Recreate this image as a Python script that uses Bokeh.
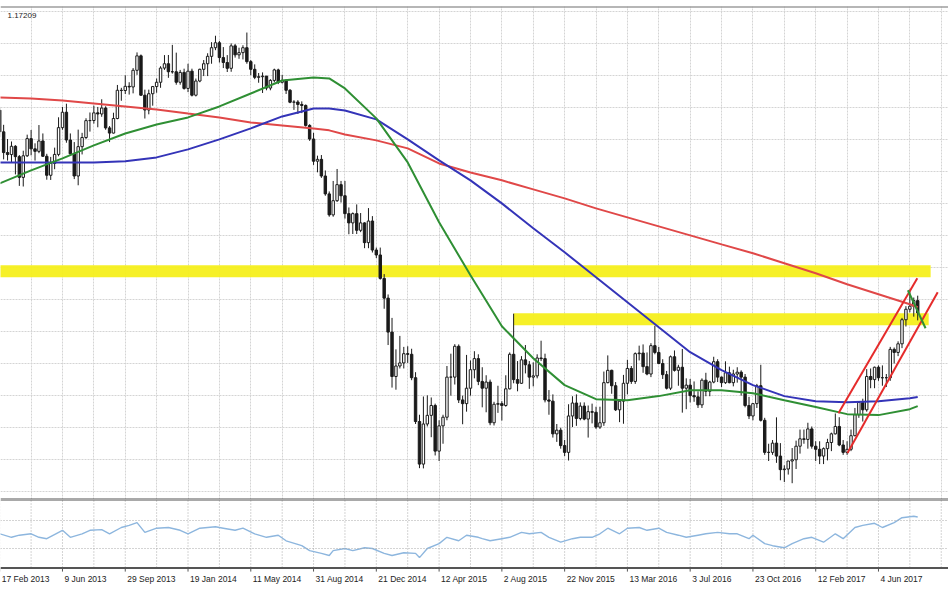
from bokeh.plotting import figure
from bokeh.models import Range1d, FixedTicker, Grid, Span, Label, ColumnDataSource
from bokeh.layouts import column
from bokeh.embed import file_html
from bokeh.resources import INLINE
from bokeh.core.properties import value

# ---------------- data (EUR/USD weekly, week 0 = 17 Feb 2013) ----------------
first_open = 1.3364
closes = [
    1.3188, 1.3020, 1.3004, 1.3071, 1.2987, 1.2819, 1.2994, 1.3133, 1.3050, 1.3030,
    1.3114, 1.2990, 1.2836, 1.2932, 1.3005, 1.3222, 1.3347, 1.3122, 1.3010, 1.2830,
    1.3068, 1.3142, 1.3279, 1.3280, 1.3342, 1.3333, 1.3381, 1.3220, 1.3178, 1.3296,
    1.3525, 1.3523, 1.3557, 1.3552, 1.3687, 1.3804, 1.3485, 1.3365, 1.3497, 1.3555,
    1.3590, 1.3705, 1.3740, 1.3675, 1.3675, 1.3590, 1.3670, 1.3540, 1.3680, 1.3485,
    1.3600, 1.3695, 1.3740, 1.3800, 1.3870, 1.3910, 1.3790, 1.3750, 1.3703, 1.3885,
    1.3812, 1.3830, 1.3870, 1.3757, 1.3695, 1.3630, 1.3635, 1.3640, 1.3543, 1.3605,
    1.3690, 1.3590, 1.3605, 1.3525, 1.3428, 1.3430, 1.3410, 1.3402, 1.3240, 1.3130,
    1.2950, 1.2965, 1.2830, 1.2685, 1.2515, 1.2630, 1.2760, 1.2670, 1.2525, 1.2450,
    1.2525, 1.2390, 1.2450, 1.2290, 1.2465, 1.2230, 1.2190, 1.2000, 1.1840, 1.1565,
    1.1205, 1.1290, 1.1315, 1.1390, 1.1385, 1.1195, 1.0840, 1.0495, 1.0820, 1.0890,
    1.0970, 1.0600, 1.0805, 1.0875, 1.1200, 1.1200, 1.1450, 1.1015, 1.0985, 1.1110,
    1.1260, 1.1350, 1.1165, 1.1110, 1.1160, 1.0830, 1.0980, 1.0985, 1.0970, 1.1105,
    1.1385, 1.1180, 1.1150, 1.1340, 1.1300, 1.1200, 1.1210, 1.1355, 1.1350, 1.1015,
    1.1005, 1.0740, 1.0770, 1.0645, 1.0590, 1.0885, 1.0990, 1.0865, 1.0965, 1.0860,
    1.0920, 1.0915, 1.0795, 1.0830, 1.1155, 1.1255, 1.1130, 1.0935, 1.1005, 1.1150,
    1.1270, 1.1165, 1.1390, 1.1395, 1.1285, 1.1225, 1.1455, 1.1400, 1.1310, 1.1220,
    1.1110, 1.1365, 1.1255, 1.1280, 1.1110, 1.1135, 1.1050, 1.1040, 1.0975, 1.1175,
    1.1085, 1.1160, 1.1325, 1.1200, 1.1155, 1.1235, 1.1155, 1.1225, 1.1240, 1.1200,
    1.0970, 1.0885, 1.0985, 1.1130, 1.0850, 1.0590, 1.0590, 1.0665, 1.0560, 1.0450,
    1.0455, 1.0520, 1.0530, 1.0640, 1.0700, 1.0695, 1.0780, 1.0640, 1.0615, 1.0560,
    1.0620, 1.0670, 1.0740, 1.0800, 1.0650, 1.0590, 1.0615, 1.0725, 1.0895, 1.0995,
    1.0935, 1.1205, 1.1180, 1.1280, 1.1195, 1.1195, 1.1195, 1.1425, 1.1400, 1.1470,
    1.1665, 1.1750, 1.1775, 1.1820, 1.1721,
]
highs = [
    1.3390, 1.3245, 1.3130, 1.3110, 1.3080, 1.3000, 1.3035, 1.3165, 1.3203, 1.3095,
    1.3243, 1.3175, 1.3010, 1.2985, 1.3060, 1.3306, 1.3390, 1.3416, 1.3175, 1.3105,
    1.3206, 1.3180, 1.3298, 1.3345, 1.3400, 1.3390, 1.3452, 1.3395, 1.3235, 1.3343,
    1.3568, 1.3545, 1.3646, 1.3590, 1.3705, 1.3832, 1.3815, 1.3530, 1.3530, 1.3560,
    1.3620, 1.3720, 1.3810, 1.3811, 1.3893, 1.3830, 1.3690, 1.3700, 1.3740, 1.3700,
    1.3620, 1.3700, 1.3770, 1.3825, 1.3915, 1.3967, 1.3925, 1.3875, 1.3810, 1.3905,
    1.3900, 1.3870, 1.3890, 1.3993, 1.3770, 1.3735, 1.3665, 1.3670, 1.3640, 1.3615,
    1.3700, 1.3700, 1.3650, 1.3615, 1.3535, 1.3445, 1.3445, 1.3435, 1.3410, 1.3250,
    1.3180, 1.2995, 1.3000, 1.2875, 1.2705, 1.2790, 1.2887, 1.2790, 1.2790, 1.2575,
    1.2535, 1.2600, 1.2530, 1.2455, 1.2570, 1.2505, 1.2250, 1.2250, 1.2035, 1.1870,
    1.1680, 1.1425, 1.1534, 1.1445, 1.1450, 1.1430, 1.1240, 1.0895, 1.1043, 1.1052,
    1.1035, 1.0985, 1.0850, 1.0895, 1.1290, 1.1390, 1.1467, 1.1465, 1.1050, 1.1380,
    1.1335, 1.1410, 1.1385, 1.1280, 1.1215, 1.1180, 1.1000, 1.1130, 1.1005, 1.1215,
    1.1400, 1.1714, 1.1330, 1.1370, 1.1460, 1.1330, 1.1320, 1.1385, 1.1495, 1.1390,
    1.1095, 1.1060, 1.0820, 1.0790, 1.0690, 1.0980, 1.1045, 1.1060, 1.0995, 1.0995,
    1.0970, 1.0985, 1.0960, 1.0960, 1.1245, 1.1376, 1.1260, 1.1160, 1.1010, 1.1218,
    1.1340, 1.1290, 1.1400, 1.1455, 1.1465, 1.1400, 1.1475, 1.1616, 1.1445, 1.1345,
    1.1250, 1.1375, 1.1416, 1.1300, 1.1428, 1.1190, 1.1185, 1.1165, 1.1085, 1.1190,
    1.1235, 1.1170, 1.1365, 1.1345, 1.1205, 1.1328, 1.1285, 1.1260, 1.1280, 1.1255,
    1.1225, 1.1040, 1.0990, 1.1145, 1.1300, 1.0870, 1.0660, 1.0690, 1.0874, 1.0665,
    1.0485, 1.0490, 1.0625, 1.0685, 1.0775, 1.0775, 1.0830, 1.0800, 1.0680, 1.0680,
    1.0630, 1.0700, 1.0750, 1.0905, 1.0875, 1.0690, 1.0680, 1.0775, 1.0950, 1.1000,
    1.1025, 1.1265, 1.1270, 1.1285, 1.1295, 1.1295, 1.1225, 1.1445, 1.1440, 1.1490,
    1.1680, 1.1775, 1.1910, 1.1845, 1.1860,
]
lows = [
    1.3145, 1.2965, 1.2955, 1.2940, 1.2843, 1.2750, 1.2745, 1.2985, 1.2998, 1.2955,
    1.3015, 1.2985, 1.2800, 1.2798, 1.2885, 1.2990, 1.3205, 1.3100, 1.2999, 1.2805,
    1.2755, 1.3005, 1.3130, 1.3190, 1.3255, 1.3225, 1.3310, 1.3205, 1.3105, 1.3175,
    1.3290, 1.3440, 1.3495, 1.3490, 1.3500, 1.3650, 1.3480, 1.3296, 1.3330, 1.3400,
    1.3505, 1.3545, 1.3690, 1.3626, 1.3660, 1.3570, 1.3570, 1.3530, 1.3510, 1.3475,
    1.3475, 1.3590, 1.3640, 1.3640, 1.3740, 1.3850, 1.3750, 1.3705, 1.3673, 1.3675,
    1.3790, 1.3780, 1.3775, 1.3740, 1.3647, 1.3615, 1.3586, 1.3503, 1.3525, 1.3525,
    1.3590, 1.3575, 1.3580, 1.3495, 1.3420, 1.3366, 1.3333, 1.3340, 1.3230, 1.3115,
    1.2920, 1.2860, 1.2815, 1.2670, 1.2500, 1.2500, 1.2620, 1.2615, 1.2485, 1.2358,
    1.2360, 1.2360, 1.2375, 1.2245, 1.2245, 1.2210, 1.2165, 1.1990, 1.1754, 1.1460,
    1.1115, 1.1098, 1.1270, 1.1270, 1.1315, 1.1175, 1.0820, 1.0462, 1.0460, 1.0800,
    1.0713, 1.0565, 1.0520, 1.0660, 1.0850, 1.1050, 1.1140, 1.0990, 1.0818, 1.0920,
    1.1050, 1.1190, 1.1135, 1.0955, 1.0915, 1.0810, 1.0808, 1.0910, 1.0848, 1.0960,
    1.1100, 1.1150, 1.1085, 1.1145, 1.1230, 1.1105, 1.1125, 1.1190, 1.1330, 1.0995,
    1.0895, 1.0710, 1.0675, 1.0620, 1.0560, 1.0524, 1.0795, 1.0805, 1.0850, 1.0850,
    1.0710, 1.0825, 1.0780, 1.0780, 1.0805, 1.1150, 1.1065, 1.0925, 1.0835, 1.0822,
    1.1060, 1.1145, 1.1145, 1.1335, 1.1235, 1.1215, 1.1200, 1.1385, 1.1305, 1.1185,
    1.1100, 1.1095, 1.1245, 1.1130, 1.0912, 1.0940, 1.0995, 1.1000, 1.0950, 1.0950,
    1.1045, 1.1045, 1.1150, 1.1160, 1.1120, 1.1145, 1.1150, 1.1125, 1.1155, 1.1050,
    1.0955, 1.0860, 1.0850, 1.0950, 1.0840, 1.0570, 1.0520, 1.0570, 1.0505, 1.0364,
    1.0350, 1.0410, 1.0340, 1.0455, 1.0580, 1.0660, 1.0620, 1.0620, 1.0520, 1.0495,
    1.0495, 1.0525, 1.0600, 1.0735, 1.0640, 1.0570, 1.0570, 1.0600, 1.0720, 1.0870,
    1.0840, 1.0920, 1.1110, 1.1110, 1.1170, 1.1130, 1.1120, 1.1170, 1.1310, 1.1370,
    1.1435, 1.1610, 1.1725, 1.1690, 1.1660,
]
weeks = list(range(len(closes)))
opens = [first_open] + closes[:-1]

ma_weeks = [0, 8, 16, 24, 32, 40, 48, 56, 64, 72, 80, 84, 88, 96, 104, 112, 120, 128,
            136, 144, 152, 160, 168, 176, 184, 192, 200, 208, 216, 224, 232, 234]
ma_red = [1.3467, 1.3459, 1.3442, 1.3418, 1.3394, 1.3370, 1.3337, 1.3305, 1.3264, 1.3240,
          1.3216, 1.3200, 1.3167, 1.3119, 1.3054, 1.2932, 1.2859, 1.2795, 1.2722, 1.2649,
          1.2568, 1.2495, 1.2422, 1.2349, 1.2276, 1.2204, 1.2123, 1.2042, 1.1953, 1.1872,
          1.1791, 1.1766]
ma_blue = [1.2940, 1.2940, 1.2940, 1.2940, 1.2949, 1.2981, 1.3046, 1.3127, 1.3216, 1.3313,
           1.3378, 1.3378, 1.3361, 1.3289, 1.3127, 1.2957, 1.2795, 1.2608, 1.2406, 1.2212,
           1.2009, 1.1807, 1.1604, 1.1402, 1.1256, 1.1135, 1.1046, 1.1005, 1.0997, 1.1005,
           1.1029, 1.1038]
ma_green = [1.2770, 1.2876, 1.2973, 1.3078, 1.3175, 1.3248, 1.3305, 1.3394, 1.3499, 1.3604,
            1.3629, 1.3621, 1.3540, 1.3297, 1.2940, 1.2455, 1.2025, 1.1612, 1.1353, 1.1135,
            1.1021, 1.1013, 1.1046, 1.1094, 1.1094, 1.1070, 1.1013, 1.0957, 1.0900, 1.0892,
            1.0940, 1.0965]

# horizontal resistance zones
band_start = [0, 131]
band_end = [237.3, 236.8]
band_top = [1.2106, 1.1717]
band_bottom = [1.2009, 1.1620]

# rising channel and small trend line
channel_x0 = [213.8, 216.1]
channel_y0 = [1.0908, 1.0584]
channel_x1 = [233.9, 239.1]
channel_y1 = [1.2001, 1.1888]
trend_x = [231.5, 236.0]
trend_y = [1.1904, 1.1596]

# oscillator (lower panel)
osc_weeks = [0, 3, 5, 8, 10, 12, 16, 18, 21, 23, 26, 28, 31, 33, 35, 37, 40, 43, 46, 48,
             51, 55, 57, 60, 62, 65, 68, 71, 73, 77, 79, 82, 84, 85, 88, 90, 93, 95, 98, 100,
             103, 106, 107, 109, 112, 114, 117, 119, 122, 123, 125, 128, 130, 133, 135, 138,
             140, 143, 146, 148, 151, 153, 155, 158, 160, 163, 165, 168, 170, 173, 175, 178,
             180, 183, 186, 188, 191, 192, 195, 197, 200, 202, 205, 207, 210, 213, 215, 218,
             220, 223, 225, 228, 230, 233, 234]
osc_values = [51, 46, 49, 51, 46, 44, 56, 46, 51, 56, 57, 51, 60, 63, 67, 53, 59, 60, 56, 51,
              59, 61, 59, 56, 59, 51, 46, 49, 41, 34, 27, 23, 20, 27, 30, 27, 31, 30, 23, 20,
              24, 23, 17, 30, 37, 46, 41, 49, 46, 44, 41, 44, 46, 53, 51, 53,
              46, 39, 44, 46, 46, 51, 59, 51, 59, 60, 56, 59, 53, 49, 46, 49,
              51, 53, 51, 51, 44, 49, 37, 34, 31, 37, 44, 46, 39, 51, 44, 60,
              63, 66, 60, 67, 74, 76, 75]
osc_levels = [70, 30]

# time axis
label_weeks = [0, 16, 32, 48, 64, 80, 96, 112, 128, 144, 160, 176, 192, 208, 224]
label_texts = ["17 Feb 2013", "9 Jun 2013", "29 Sep 2013", "19 Jan 2014", "11 May 2014",
               "31 Aug 2014", "21 Dec 2014", "12 Apr 2015", "2 Aug 2015", "22 Nov 2015",
               "13 Mar 2016", "3 Jul 2016", "23 Oct 2016", "12 Feb 2017", "4 Jun 2017"]
grid_weeks = list(range(0, 241, 8))
grid_levels = [1.4163, 1.3904, 1.3645, 1.3386, 1.3127, 1.2868, 1.2608, 1.2349, 1.2090,
               1.1831, 1.1572, 1.1313, 1.1054, 1.0795, 1.0535, 1.0276]
header_text = "1.17209"

# ---------------- styling / layout ----------------
W = 948
X_RANGE = Range1d(0.2, 241.85)
P_TOP, P_BOT = 1.4204, 1.0208
O_TOP, O_BOT = 100.0, -34.3
AXIS_LINE = 2.1
LABEL_Y = -12.9
TICK_END = -3.0
GRID_COL = "#d4d4d4"
FRAME_COL = "#555555"
FONT = "Liberation Sans"


def base_fig(height, y_range, top):
    f = figure(width=W, height=height, x_range=X_RANGE, y_range=y_range,
               output_backend="svg", toolbar_location=None,
               x_axis_location=None, y_axis_location=None,
               min_border_top=top, min_border_bottom=0, min_border_left=0, min_border_right=0,
               background_fill_color="white", border_fill_color="white",
               outline_line_color=None)
    for g in f.grid:
        g.visible = False
    return f


# ---------------- main price panel ----------------
p = base_fig(499, Range1d(P_BOT, P_TOP), 6)
p.add_layout(Grid(dimension=0, ticker=FixedTicker(ticks=grid_weeks),
                  grid_line_color=GRID_COL, grid_line_dash="2 1", grid_line_width=1))
p.add_layout(Grid(dimension=1, ticker=FixedTicker(ticks=grid_levels),
                  grid_line_color=GRID_COL, grid_line_dash="2 1", grid_line_width=1))

p.quad(left=band_start, right=band_end, top=band_top, bottom=band_bottom,
       fill_color="#f6ef1c", line_color=None, fill_alpha=0.95)

src = ColumnDataSource(dict(x=weeks, o=opens, h=highs, l=lows, c=closes))
p.segment(x0="x", y0="l", x1="x", y1="h", source=src, line_color="#1a1a1a", line_width=1)
up = ColumnDataSource(dict(x=[w for w in weeks if closes[w] >= opens[w]],
                           t=[closes[w] for w in weeks if closes[w] >= opens[w]],
                           b=[opens[w] for w in weeks if closes[w] >= opens[w]]))
dn = ColumnDataSource(dict(x=[w for w in weeks if closes[w] < opens[w]],
                           t=[opens[w] for w in weeks if closes[w] < opens[w]],
                           b=[closes[w] for w in weeks if closes[w] < opens[w]]))
p.vbar(x="x", top="t", bottom="b", width=0.62, source=up,
       fill_color="white", line_color="#1a1a1a", line_width=1)
p.vbar(x="x", top="t", bottom="b", width=0.62, source=dn,
       fill_color="#1a1a1a", line_color="#1a1a1a", line_width=1)

p.line(ma_weeks, ma_red, line_color="#e04848", line_width=2)
p.line(ma_weeks, ma_blue, line_color="#3434b8", line_width=2)
p.line(ma_weeks, ma_green, line_color="#2f8f34", line_width=2)

p.segment(x0=channel_x0, y0=channel_y0, x1=channel_x1, y1=channel_y1,
          line_color="#e52b2b", line_width=2)
p.line(trend_x, trend_y, line_color="#2f8f34", line_width=2)

p.add_layout(Span(location=P_TOP, dimension="width", line_color="#6e6e6e", line_width=2))
p.add_layout(Span(location=P_BOT, dimension="width", line_color=FRAME_COL, line_width=2))
p.add_layout(Label(x=7, y=484, x_units="screen", y_units="screen", text=header_text,
                   text_font=FONT, text_font_size="8px", text_color="#222222",
                   text_baseline="middle"))

# ---------------- oscillator panel ----------------
q = base_fig(94, Range1d(O_BOT, O_TOP), 0)
q.segment(x0=grid_weeks, y0=[AXIS_LINE] * len(grid_weeks), x1=grid_weeks,
          y1=[O_TOP] * len(grid_weeks), line_color=GRID_COL, line_dash="2 1", line_width=1)
for lv in osc_levels:
    q.add_layout(Span(location=lv, dimension="width", line_color="#a8a8a8",
                      line_dash="1 2", line_width=1))
q.line(osc_weeks, osc_values, line_color="#8db6de", line_width=1.4)
q.add_layout(Span(location=O_TOP, dimension="width", line_color=FRAME_COL, line_width=2))
q.add_layout(Span(location=AXIS_LINE, dimension="width", line_color=FRAME_COL, line_width=2))
q.segment(x0=label_weeks, y0=[AXIS_LINE] * len(label_weeks), x1=label_weeks,
          y1=[TICK_END] * len(label_weeks), line_color=FRAME_COL, line_width=1)
q.text(x=label_weeks, y=[LABEL_Y] * len(label_weeks), text=label_texts,
       text_font=value(FONT), text_font_size="8.5px", text_color="#222222",
       text_align="left", text_baseline="middle", x_offset=2)

layout = column(p, q, spacing=0)
open("out.html", "w").write(file_html(layout, INLINE))
